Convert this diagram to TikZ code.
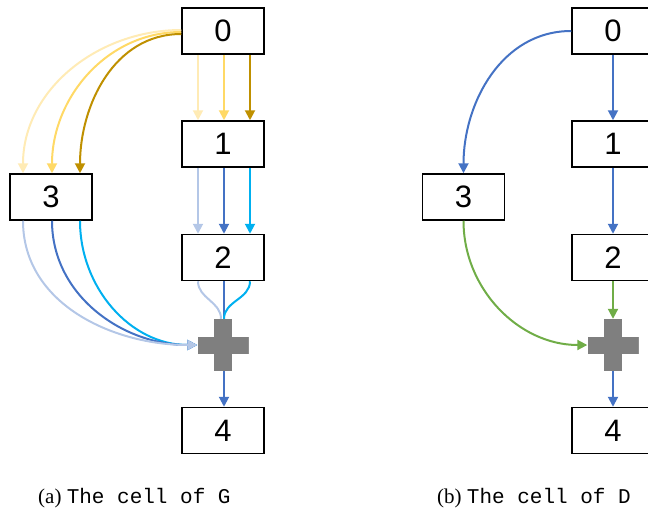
\documentclass[tikz,border=0pt]{standalone}
\usepackage{fontspec}
\setmainfont{Liberation Serif}
\setmonofont{Liberation Mono}
\newfontfamily\digitfont{Liberation Sans}
\usetikzlibrary{arrows.meta}
\definecolor{paleyellow}{HTML}{FFEBB5}
\definecolor{gold}{HTML}{FFD966}
\definecolor{darkgold}{HTML}{BF9000}
\definecolor{lightblue}{HTML}{B4C7E7}
\definecolor{midblue}{HTML}{4472C4}
\definecolor{cyanblue}{HTML}{00B0F0}
\definecolor{leafgreen}{HTML}{70AD47}
\definecolor{plusgray}{HTML}{7F7F7F}
\tikzset{
  box/.style={draw=black, line width=1.5pt, fill=white, minimum width=82pt, minimum height=46pt,
    inner sep=0pt, font=\digitfont\fontsize{31}{31}\selectfont},
  arr/.style={line width=2pt, -{Triangle[width=10pt,length=10pt]}},
  plainline/.style={line width=2pt},
  hub/.style={minimum width=51pt, minimum height=52pt, inner sep=0pt,
    path picture={
      \fill[plusgray] ([xshift=-25.5pt,yshift=-8.5pt]path picture bounding box.center)
        rectangle ([xshift=25.5pt,yshift=8.5pt]path picture bounding box.center);
      \fill[plusgray] ([xshift=-9pt,yshift=-26pt]path picture bounding box.center)
        rectangle ([xshift=9pt,yshift=26pt]path picture bounding box.center);}},
  caption/.style={anchor=base west, inner sep=0pt, font=\fontsize{21}{25}\selectfont}
}
\begin{document}
\begin{tikzpicture}[x=1pt,y=-1pt]
\useasboundingbox (0,0) rectangle (648,512);
\clip (0,0) rectangle (648,512);

% ---------- panel (a) ----------
\node[box] (a0) at (223,31) {0};
\node[box] (a1) at (223,144) {1};
\node[box] (a2) at (223,257.5) {2};
\node[box] (a3) at (51,197) {3};
\node[box] (a4) at (223,430.5) {4};
\node[hub] (ap) at (223,345) {};

% 0 -> 1
\draw[arr, paleyellow] ([xshift=-25pt]a0.south) -- ([xshift=-25pt]a1.north);
\draw[arr, gold] ([xshift=1pt]a0.south) -- ([xshift=1pt]a1.north);
\draw[arr, darkgold] ([xshift=27pt]a0.south) -- ([xshift=27pt]a1.north);
% 0 -> 3
\draw[arr, paleyellow] ([yshift=1pt]a0.west) to[out=180,in=90] ([xshift=-28pt]a3.north);
\draw[arr, gold] ([yshift=-1pt]a0.west) to[out=180,in=90] ([xshift=1pt]a3.north);
\draw[arr, darkgold] ([yshift=-3pt]a0.west) to[out=180,in=90] ([xshift=29pt]a3.north);
% 1 -> 2
\draw[arr, lightblue] ([xshift=-25pt]a1.south) -- ([xshift=-25pt]a2.north);
\draw[arr, midblue] ([xshift=1pt]a1.south) -- ([xshift=1pt]a2.north);
\draw[arr, cyanblue] ([xshift=27pt]a1.south) -- ([xshift=27pt]a2.north);
% 3 -> plus
\draw[arr, cyanblue] ([xshift=29pt]a3.south) to[out=-90,in=180] (ap.west);
\draw[arr, midblue] ([xshift=1pt]a3.south) to[out=-90,in=180] (ap.west);
\draw[arr, lightblue] ([xshift=-28pt]a3.south) to[out=-90,in=180] (ap.west);
% 2 -> plus
\draw[plainline, lightblue] ([xshift=-25pt]a2.south) to[out=-90,in=90] ([xshift=-2pt]ap.north);
\draw[plainline, midblue] ([xshift=1pt]a2.south) -- ([xshift=1pt]ap.north);
\draw[plainline, cyanblue] ([xshift=27pt]a2.south) to[out=-90,in=90] ([xshift=1pt]ap.north);
% plus -> 4
\draw[arr, midblue] ([xshift=1pt]ap.south) -- ([xshift=1pt]a4.north);
\node[hub] at (ap) {};

% ---------- panel (b) ----------
\node[box] (b0) at (613,31) {0};
\node[box] (b1) at (613,144) {1};
\node[box] (b2) at (613,257.5) {2};
\node[box] (b3) at (463.5,197) {3};
\node[box] (b4) at (613,430.5) {4};
\node[hub] (bp) at (613,345) {};

\draw[arr, midblue] (b0) -- (b1);
\draw[arr, midblue] (b1) -- (b2);
\draw[arr, midblue] (b0.west) to[out=180,in=90] (b3.north);
\draw[arr, leafgreen] (b2.south) -- (bp.north);
\draw[arr, leafgreen] (b3.south) to[out=-90,in=180] (bp.west);
\draw[arr, midblue] (bp.south) -- (b4.north);
\node[hub] at (bp) {};

% captions
\node[caption] (capa) at (38,503) {(a) \texttt{The cell of G}};
\node[caption] (capb) at (437,503) {(b) \texttt{The cell of D}};
\end{tikzpicture}
\end{document}
